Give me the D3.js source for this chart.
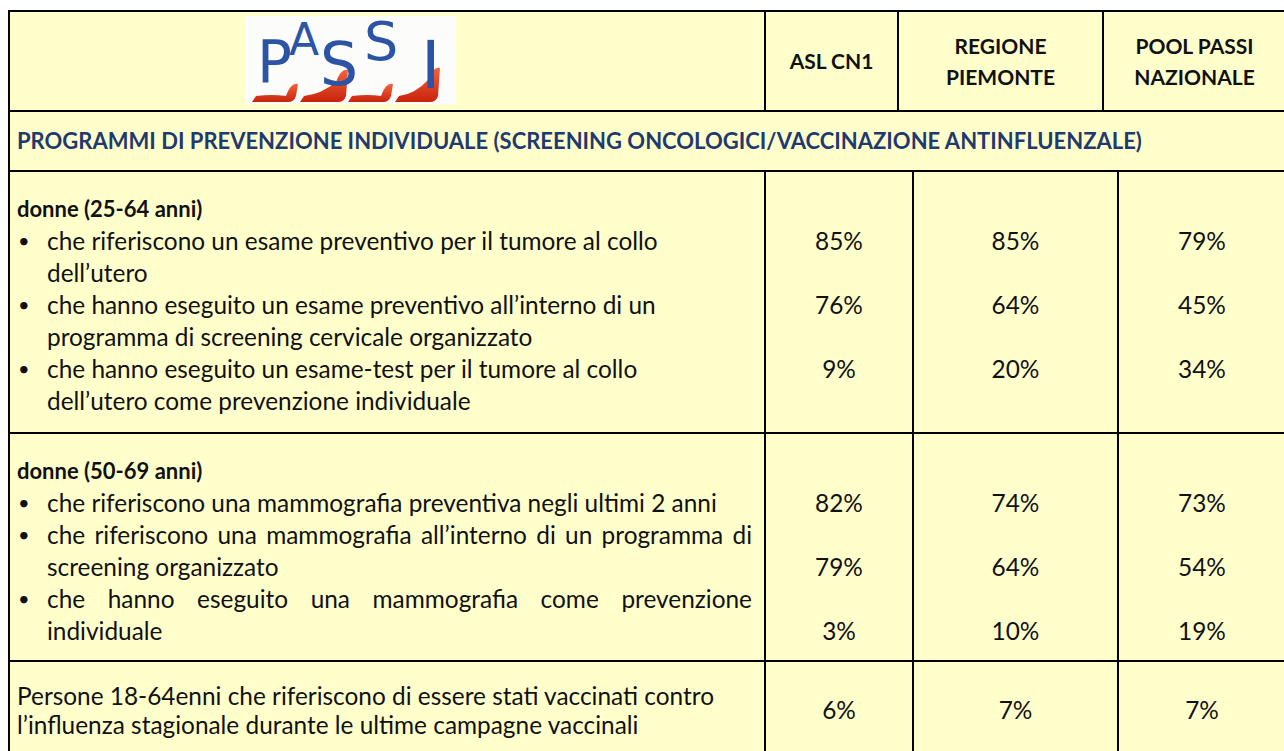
<!DOCTYPE html>
<html>
<head>
<meta charset="utf-8">
<script src="https://cdn.jsdelivr.net/npm/d3@7"></script>
<style>
  html, body { margin: 0; padding: 0; background: #fff; }
  svg { display: block; font-family: Lato, "Open Sans", sans-serif; }
</style>
</head>
<body>
<div id="chart"></div>
<script>
const width = 1284;
const height = 751;

// ---- data ----
const columns = ["ASL CN1", "REGIONE PIEMONTE", "POOL PASSI NAZIONALE"];
const columnLines = [["ASL CN1"], ["REGIONE", "PIEMONTE"], ["POOL PASSI", "NAZIONALE"]];
const sectionTitle = "PROGRAMMI DI PREVENZIONE INDIVIDUALE (SCREENING ONCOLOGICI/VACCINAZIONE ANTINFLUENZALE)";

const cervicalGroup = "donne (25-64 anni)";
const cervicalItems = [
    ["che riferiscono un esame preventivo per il tumore al collo", "dell’utero"],
    ["che hanno eseguito un esame preventivo all’interno di un", "programma di screening cervicale organizzato"],
    ["che hanno eseguito un esame-test  per il tumore al collo", "dell’utero come prevenzione individuale"]
];
const cervicalAsl = [85, 76, 9];
const cervicalRegione = [85, 64, 20];
const cervicalPool = [79, 45, 34];

const mammoGroup = "donne (50-69 anni)";
const mammoItems = [
    ["che riferiscono una mammografia preventiva negli ultimi 2 anni"],
    ["che riferiscono una mammografia all’interno di un programma di", "screening organizzato"],
    ["che hanno eseguito una mammografia come prevenzione", "individuale"]
];
const mammoAsl = [82, 79, 3];
const mammoRegione = [74, 64, 10];
const mammoPool = [73, 54, 19];

const fluText = [
    "Persone 18-64enni che riferiscono di essere stati vaccinati  contro",
    "l’influenza stagionale durante le ultime campagne vaccinali"
];
const fluValues = [6, 7, 7];

// ---- layout ----
const fill = "#FFFFCC";
const navy = "#1F3A6E";
const bodySize = 24.4, boldSize = 22, headSize = 21;
const frameLeft = 9, frameTop = 11, frameRight = 1286;
const headEdges = [frameLeft, 765, 898, 1103, frameRight];
const bodyEdges = [frameLeft, 765, 913, 1118, frameRight];
const rowEdges = [frameTop, 111, 171, 433, 661, 800];
const lineH = 32;
const textX = 17, bulletTextX = 47, justifyRight = 752;
const pct = d => d + "%";

const xHead = d3.scaleOrdinal()
    .domain(columns)
    .range(columns.map((c, i) => (headEdges[i + 1] + headEdges[i + 2]) / 2));
const xBody = d3.scaleOrdinal()
    .domain(columns)
    .range(columns.map((c, i) => (bodyEdges[i + 1] + bodyEdges[i + 2]) / 2));

const svg = d3.select("#chart")
    .append("svg")
    .attr("width", width)
    .attr("height", height);

// cell background
svg.append("rect")
    .attr("x", frameLeft)
    .attr("y", frameTop)
    .attr("width", frameRight - frameLeft)
    .attr("height", rowEdges[5] - frameTop)
    .attr("fill", fill);

// ---- logo ----
const logo = svg.append("g").attr("transform", "translate(245,16)");
logo.append("rect").attr("width", 211).attr("height", 88).attr("fill", "#fcfcfa");

const grad = svg.append("defs").append("linearGradient")
    .attr("id", "shoe").attr("x1", 0).attr("y1", 0).attr("x2", 0).attr("y2", 1);
grad.append("stop").attr("offset", "0%").attr("stop-color", "#f2643c");
grad.append("stop").attr("offset", "100%").attr("stop-color", "#c8230c");

// shoes: [left, right, top of heel]
const shoes = [[7, 53, 66], [55, 103, 52], [103, 148, 66], [150, 195, 50]];
logo.selectAll("path.shoe")
    .data(shoes)
    .enter().append("path")
    .attr("class", "shoe")
    .attr("fill", "url(#shoe)")
    .attr("d", ([l, r, t]) => {
        const b = 86;
        return `M${l},${b} L${l + 4},${b - 6} Q${l + (r - l) * 0.45},${b - 8} ${r - 12},${t + 14}`
             + ` Q${r - 7},${t} ${r},${t + 2} L${r - 2},${b - 6} Q${r - 4},${b} ${r - 10},${b} Z`;
    });

const letters = [
    { ch: "P", x: 12, y: 66, size: 58 },
    { ch: "A", x: 44, y: 39, size: 44 },
    { ch: "S", x: 75, y: 69, size: 60 },
    { ch: "S", x: 119, y: 44, size: 54 },
    { ch: "I", x: 176, y: 72, size: 66 }
];
logo.selectAll("text.letter")
    .data(letters)
    .enter().append("text")
    .attr("class", "letter")
    .attr("x", d => d.x)
    .attr("y", d => d.y)
    .attr("font-family", "'DejaVu Sans', sans-serif")
    .attr("font-size", d => d.size)
    .attr("fill", "#2c54a4")
    .text(d => d.ch);

// ---- header labels ----
const head = svg.append("g")
    .attr("font-weight", "bold")
    .attr("font-size", headSize)
    .attr("text-anchor", "middle")
    .attr("fill", "#111");
columns.forEach((c, i) => {
    const lines = columnLines[i];
    const y0 = 62 - (lines.length - 1) * 31 / 2;
    lines.forEach((t, j) => {
        head.append("text")
            .attr("x", xHead(c))
            .attr("y", y0 + j * 31)
            .attr("dy", "0.35em")
            .text(t);
    });
});

// ---- section title ----
svg.append("text")
    .attr("x", textX)
    .attr("y", 141)
    .attr("dy", "0.35em")
    .attr("font-weight", "bold")
    .attr("font-size", boldSize)
    .attr("fill", navy)
    .text(sectionTitle);

// ---- blocks ----
const body = svg.append("g")
    .attr("font-size", bodySize)
    .attr("fill", "#111")
    .style("white-space", "pre");

function justifyLine(text, x0, x1, y) {
    const words = text.split(" ");
    const nodes = words.map(w => body.append("text").attr("y", y).attr("dy", "0.35em").text(w));
    const widths = nodes.map(n => n.node().getComputedTextLength());
    const gap = (x1 - x0 - d3.sum(widths)) / (words.length - 1);
    let x = x0;
    nodes.forEach((n, i) => { n.attr("x", x); x += widths[i] + gap; });
}

function drawBlock(top, group, items, series, justify) {
    const y = d3.scaleLinear().domain([0, 1]).range([top + 38, top + 38 + lineH]);
    body.append("text")
        .attr("x", textX)
        .attr("y", y(0))
        .attr("dy", "0.35em")
        .attr("font-weight", "bold")
        .attr("font-size", boldSize)
        .text(group);
    let line = 1;
    items.forEach(item => {
        body.append("text")
            .attr("x", textX + 1)
            .attr("y", y(line))
            .attr("dy", "0.35em")
            .attr("font-size", 20)
            .text("•");
        item.forEach((t, j) => {
            if (justify && j < item.length - 1) {
                justifyLine(t, bulletTextX, justifyRight, y(line));
            } else {
                body.append("text")
                    .attr("x", bulletTextX)
                    .attr("y", y(line))
                    .attr("dy", "0.35em")
                    .text(t);
            }
            line++;
        });
    });
    series.forEach((vals, c) => {
        body.selectAll(null)
            .data(vals)
            .enter().append("text")
            .attr("x", xBody(columns[c]))
            .attr("y", (d, i) => y(1 + 2 * i))
            .attr("dy", "0.35em")
            .attr("text-anchor", "middle")
            .text(pct);
    });
}

drawBlock(rowEdges[2], cervicalGroup, cervicalItems, [cervicalAsl, cervicalRegione, cervicalPool], false);
drawBlock(rowEdges[3], mammoGroup, mammoItems, [mammoAsl, mammoRegione, mammoPool], true);

// last row
const fluY = d3.scaleLinear().domain([0, 1]).range([696, 725]);
fluText.forEach((t, i) => {
    body.append("text")
        .attr("x", textX)
        .attr("y", fluY(i))
        .attr("dy", "0.35em")
        .text(t);
});
body.selectAll(null)
    .data(fluValues)
    .enter().append("text")
    .attr("x", (d, i) => xBody(columns[i]))
    .attr("y", fluY(0.5))
    .attr("dy", "0.35em")
    .attr("text-anchor", "middle")
    .text(pct);

// ---- grid lines ----
const grid = svg.append("g").attr("stroke", "#000").attr("stroke-width", 2);
grid.selectAll("line.h")
    .data(rowEdges.slice(0, 5))
    .enter().append("line")
    .attr("x1", frameLeft - 1).attr("x2", frameRight)
    .attr("y1", d => d).attr("y2", d => d);
grid.append("line")
    .attr("x1", frameLeft).attr("x2", frameLeft)
    .attr("y1", frameTop - 1).attr("y2", rowEdges[5]);
grid.selectAll("line.vh")
    .data(headEdges.slice(1, 4))
    .enter().append("line")
    .attr("x1", d => d).attr("x2", d => d)
    .attr("y1", rowEdges[0]).attr("y2", rowEdges[1]);
grid.selectAll("line.vb")
    .data(bodyEdges.slice(1, 4))
    .enter().append("line")
    .attr("x1", d => d).attr("x2", d => d)
    .attr("y1", rowEdges[2]).attr("y2", rowEdges[5]);
</script>
</body>
</html>
